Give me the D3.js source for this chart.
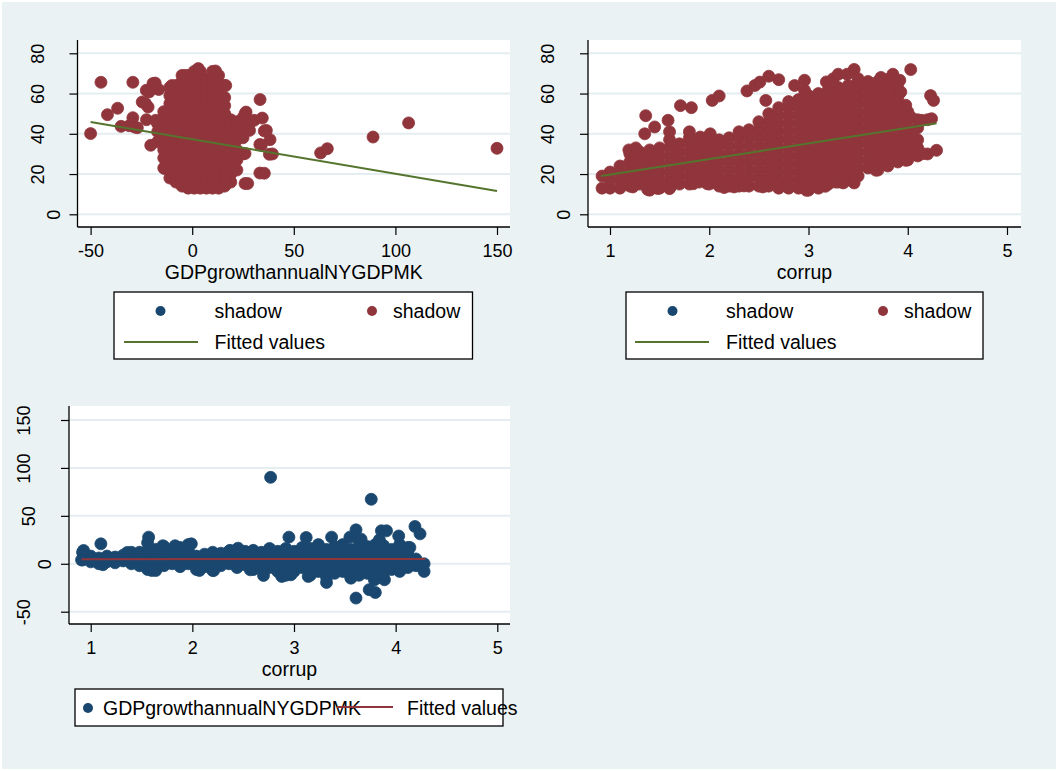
<!DOCTYPE html>
<html>
<head>
<meta charset="utf-8">
<script src="https://cdn.jsdelivr.net/npm/d3@7"></script>
<style>
  body { margin: 0; background: #fff; }
  svg text { font-family: "Liberation Sans", Arial, sans-serif; }
</style>
</head>
<body>
<div id="app"></div>
<script>
// ---- data ----
const shadowTicks = [0, 20, 40, 60, 80]
const gdpTicks = [-50, 0, 50, 100, 150]
const corrupTicks = [1, 2, 3, 4, 5]
const gdpAxisTicks = [-50, 0, 50, 100, 150]

// panel 1: GDP growth (x) vs shadow (y); dense cloud typed as columns [gdp, [shadow...]]
const gdpShadowCloud = [
  [-17, [36, 41, 45]],
  [-14, [23, 28, 32, 36, 40, 44, 48, 51]],
  [-11, [18, 22, 26, 30, 34, 38, 42, 46, 50, 55, 59, 63]],
  [-8, [16, 20, 24, 28, 32, 36, 40, 44, 48, 52, 56, 60, 64]],
  [-5, [14, 18, 22, 26, 30, 34, 38, 42, 46, 50, 54, 58, 62, 66, 69]],
  [-2, [13, 17, 21, 25, 29, 33, 37, 41, 45, 49, 53, 57, 61, 65, 69]],
  [1, [13, 16, 20, 24, 28, 32, 36, 40, 44, 48, 52, 56, 60, 64, 68, 71]],
  [4, [13, 16, 20, 24, 28, 32, 36, 40, 44, 48, 52, 56, 60, 64, 68, 71]],
  [7, [13, 16, 20, 24, 28, 32, 36, 40, 44, 48, 52, 56, 60, 64, 67]],
  [10, [13, 17, 21, 25, 29, 33, 37, 41, 45, 49, 53, 57, 61, 65, 69, 71]],
  [13, [13, 17, 21, 25, 29, 33, 37, 41, 45, 49, 53, 57, 61, 65, 69]],
  [16, [14, 18, 22, 26, 30, 34, 38, 42, 46, 50, 54, 58, 64]],
  [19, [16, 20, 24, 28, 32, 36, 40, 44, 47]],
  [22, [22, 27, 32, 37, 42, 46]],
  [25, [30, 38, 44, 48]],
  [28, [45]]
]
const gdpShadowOutliers = [
  [-50, 40.1], [-44.9, 65.6], [-29.2, 65.6], [-41.7, 49.5], [-36.7, 52.7], [-35, 43.7],
  [-31, 44], [-29.2, 48], [-28.4, 43.4], [-27, 43], [-24.6, 55.8], [-21.7, 53.3], [-22.5, 47],
  [-20.4, 34.3], [-22.6, 61.6], [-19.3, 65], [-18.2, 65.2], [-16.5, 62], [-21.2, 60.8],
  [-23, 55], [-18, 46.7], [-15, 41.7], [-10, 64], [-3.5, 69], [3, 72.4], [11.5, 71.2],
  [-13.5, 22.7], [26, 50], [26.5, 50.8], [30.5, 46.7], [33.4, 57], [34.5, 47.8], [35.5, 41.4],
  [38.3, 37.1], [33.3, 34.7], [34, 34.3], [38, 29.8], [33.3, 20.5], [26, 30.2],
  [28.2, 41.7], [26, 15.3], [27.3, 15.3], [35.5, 20.4], [39.5, 30], [36.5, 41.7],
  [19, 26], [16.5, 20.6], [16.5, 16.8], [27.3, 45], [13, 64.1], [16.5, 64],
  [63.2, 30.5], [66.5, 32.6], [89, 38.4], [106.5, 45.4], [150, 32.8]
]
const gdpShadowFit = [[-50, 45.9], [150, 11.6]]

// panel 2: corrup (x) vs shadow (y)
const corrupShadowCloud = [
  [1.0, [13, 17, 21]],
  [1.1, [13, 17, 21, 24]],
  [1.2, [14, 18, 22, 26, 30]],
  [1.3, [15, 19, 23, 27, 31]],
  [1.4, [12, 16, 20, 24, 28, 32]],
  [1.5, [13, 17, 21, 25, 29, 33]],
  [1.6, [13, 17, 21, 25, 29, 33, 37]],
  [1.7, [15, 19, 23, 27, 31, 35]],
  [1.8, [15, 19, 23, 27, 31, 35, 38]],
  [1.9, [16, 20, 24, 28, 32, 36]],
  [2.0, [15, 19, 23, 27, 31, 35, 39]],
  [2.1, [14, 18, 22, 26, 30, 34, 37]],
  [2.2, [14, 18, 22, 26, 30, 34, 38]],
  [2.3, [14, 18, 22, 26, 30, 34, 38, 41]],
  [2.4, [14, 18, 22, 26, 30, 34, 38, 42]],
  [2.5, [14, 18, 22, 26, 30, 34, 38, 42, 46]],
  [2.6, [14, 18, 22, 26, 30, 34, 38, 42, 46, 50]],
  [2.7, [13, 17, 21, 25, 29, 33, 37, 41, 45, 49, 53]],
  [2.8, [13, 17, 21, 25, 29, 33, 37, 41, 45, 49, 53, 56]],
  [2.9, [13, 17, 21, 25, 29, 33, 37, 41, 45, 49, 53, 57]],
  [3.0, [12, 16, 20, 24, 28, 32, 36, 40, 44, 48, 52, 56, 59]],
  [3.1, [13, 17, 21, 25, 29, 33, 37, 41, 45, 49, 53, 57, 60]],
  [3.2, [15, 19, 23, 27, 31, 35, 39, 43, 47, 51, 55, 59, 62]],
  [3.3, [16, 20, 24, 28, 32, 36, 40, 44, 48, 52, 56, 60, 63]],
  [3.4, [17, 21, 25, 29, 33, 37, 41, 45, 49, 53, 57, 61, 64]],
  [3.5, [19, 23, 27, 31, 35, 39, 43, 47, 51, 55, 59, 63, 66]],
  [3.6, [23, 27, 31, 35, 39, 43, 47, 51, 55, 59, 63, 66]],
  [3.7, [22, 26, 30, 34, 38, 42, 46, 50, 54, 58, 62, 66]],
  [3.8, [24, 28, 32, 36, 40, 44, 48, 52, 56, 60, 64, 67]],
  [3.9, [26, 30, 34, 38, 42, 46, 50, 54, 58, 62, 65]],
  [4.0, [27, 31, 35, 39, 43, 47, 51]],
  [4.1, [29, 33, 37, 43, 47]],
  [4.2, [30, 47]]
]
const corrupShadowOutliers = [
  [0.92, 19], [0.92, 13], [1.13, 23.5], [1.19, 32], [1.26, 33], [1.23, 13.6], [1.36, 49],
  [1.35, 40], [1.45, 43.4], [1.585, 46.7], [1.6, 41], [1.71, 54], [1.82, 53], [1.8, 41],
  [2.03, 56.6], [2.1, 58.8], [2.38, 61.3], [2.46, 64], [2.51, 65.7], [2.57, 56.6], [2.6, 68.6],
  [2.7, 66.9], [2.86, 64], [2.96, 66.6], [2.96, 61.6], [3.18, 65.8], [3.25, 67.4], [3.3, 69.6],
  [3.39, 69.6], [3.46, 72], [3.5, 67.4], [3.73, 68], [3.85, 69.6], [4.03, 71.9], [3.92, 66.6],
  [3.93, 60.8], [3.98, 54.2], [4.23, 59], [4.26, 56.6], [4.24, 47.5], [4.14, 46.7], [4.03, 48.4],
  [4.05, 39.3], [4.29, 31.8], [4.15, 30.1], [3.98, 26.8], [3.68, 21.9], [3.46, 15.6],
  [3.35, 15.6], [3.27, 16], [3.17, 13.9], [2.98, 11.9], [2.79, 13.6], [2.54, 13.6],
  [2.35, 14.1], [2.25, 13.6], [2.15, 13.3], [1.98, 15.2], [1.84, 15.2], [1.6, 12.8],
  [1.48, 12.8], [1.38, 12.3], [1.51, 16], [1.47, 20.2], [2.01, 40], [1.91, 38.4], [1.82, 36.8]
]
const corrupShadowFit = [[0.91, 19], [4.29, 45.2]]

// panel 3: corrup (x) vs GDP growth (y)
const corrupGdpCloud = [
  [0.92, [4, 12]], [1.0, [2, 8]], [1.08, [0, 6]], [1.16, [2, 8]], [1.24, [1, 7]],
  [1.32, [3, 9]], [1.4, [0, 6, 12]], [1.48, [-2, 5, 12]], [1.56, [-6, 0, 7, 14, 22]],
  [1.64, [-7, 1, 8, 15]], [1.72, [-2, 5, 12, 18]], [1.8, [0, 7, 14]],
  [1.88, [-3, 4, 11, 17]], [1.96, [0, 7, 14, 20]], [2.04, [-6, 1, 8]],
  [2.12, [-3, 4, 10]], [2.2, [-7, 0, 6, 12]], [2.28, [-2, 5, 11]], [2.36, [0, 7, 13]],
  [2.44, [-4, 3, 10, 15]], [2.52, [-1, 6, 13]], [2.6, [-6, 1, 8, 14]], [2.68, [-2, 5, 12]],
  [2.76, [-4, 3, 10, 16]], [2.84, [-8, -1, 6, 13]], [2.92, [-12, -5, 2, 9, 16]],
  [3.0, [-8, -1, 6, 13]], [3.08, [-4, 3, 10, 17]], [3.16, [-12, -5, 2, 9, 16]],
  [3.24, [-8, -1, 6, 13, 20]], [3.32, [-14, -6, 1, 8, 15]], [3.4, [-10, -3, 4, 11, 18]],
  [3.48, [-8, -1, 6, 13, 20]], [3.56, [-14, -6, 1, 8, 15]], [3.64, [-12, -4, 3, 10, 17, 24]],
  [3.72, [-10, -3, 4, 11, 18]], [3.8, [-16, -8, -1, 6, 13, 20]], [3.88, [-10, -3, 4, 11, 19]],
  [3.96, [-6, 1, 8, 15]], [4.04, [-8, -1, 6, 13, 20]], [4.12, [-4, 3, 10, 17]],
  [4.2, [-2, 5]], [4.28, [-8, 0]]
]
const corrupGdpOutliers = [
  [2.77, 90.2], [3.76, 67.3], [4.19, 38.9], [4.24, 31.2], [4.03, 29], [3.86, 34.4], [3.91, 34.4],
  [3.61, 35.4], [3.55, 27.8], [3.66, 25.7], [3.37, 27.8], [3.12, 27.4], [2.95, 27.8], [3.84, 25],
  [4.14, 17], [3.61, -35.8], [3.74, -27], [3.8, -30], [3.89, -16.7], [3.32, -19.5], [3.56, -15],
  [3.79, -16.7], [3.14, -13.2], [2.88, -13.2], [2.97, -11.5], [2.7, -12.2], [1.1, 20.8],
  [0.93, 13.9], [0.91, 4], [1.12, -1], [1.57, 27.8], [1.6, -7], [1.36, 11.8], [1.99, 20.8],
  [1.83, 18.8], [1.71, 18.8], [2.07, -7], [2.21, -7], [2.57, -6.3], [2.45, 16.3], [2.37, 14]
]
const corrupGdpFit = [[0.91, 4.8], [4.29, 5.0]]

const legendTop = ['shadow', 'shadow', 'Fitted values']
const legendBottom = ['GDPgrowthannualNYGDPMK', 'Fitted values']

// ---- styling ----
const navy = '#1A476F'
const maroon = '#90353B'
const green = '#55752F'
const bg = '#EAF2F3'
const gridColor = '#E4EDF0'
const font = '"Liberation Sans", Arial, sans-serif'

const flat = (cloud, extra) => cloud.flatMap(([x, ys]) => ys.map(y => [x, y])).concat(extra)

const svg = d3.select('#app').append('svg')
  .attr('width', 1058).attr('height', 771)
  .style('display', 'block')

svg.append('rect').attr('x', 2).attr('y', 2).attr('width', 1054).attr('height', 767).attr('fill', bg)

function drawPanel(p) {
  const [left, top, right, bottom] = p.box
  const g = svg.append('g')
  const x = d3.scaleLinear().domain(p.xDomain).range(p.xRange)
  const y = d3.scaleLinear().domain(p.yDomain).range(p.yRange)

  g.append('rect').attr('x', left).attr('y', top)
    .attr('width', right - left).attr('height', bottom - top).attr('fill', '#fff')

  g.selectAll('line.grid').data(p.yTicks).join('line')
    .attr('class', 'grid')
    .attr('x1', left).attr('x2', right)
    .attr('y1', d => y(d)).attr('y2', d => y(d))
    .attr('stroke', gridColor).attr('stroke-width', 2)

  g.selectAll('circle').data(p.points).join('circle')
    .attr('cx', d => x(d[0])).attr('cy', d => y(d[1]))
    .attr('r', 6).attr('fill', p.color)
    .attr('stroke', p.color).attr('stroke-width', 0.8)

  g.append('path').datum(p.fit)
    .attr('d', d3.line().x(d => x(d[0])).y(d => y(d[1])))
    .attr('stroke', p.fitColor).attr('stroke-width', 2).attr('fill', 'none')

  // y axis, labels turned like Stata's
  const ya = g.append('g').attr('transform', `translate(${left},0)`)
    .call(d3.axisLeft(y).tickValues(p.yTicks).tickSize(8).tickFormat(d => String(d)))
    .attr('font-size', 18).attr('font-family', font)
  ya.select('.domain').remove()
  ya.selectAll('.tick line').attr('stroke', '#000').attr('stroke-width', 1.2)
  ya.selectAll('.tick text')
    .attr('x', null).attr('dy', '0.35em').attr('text-anchor', 'middle').attr('fill', '#000')
    .each(function () {
      const w = this.getComputedTextLength()
      const off = Math.min(24 + 1.6 * (w - 10), 45)
      d3.select(this).attr('transform', `translate(${-off},0) rotate(-90)`)
    })
  g.append('line').attr('x1', left).attr('x2', left).attr('y1', top).attr('y2', bottom)
    .attr('stroke', '#000').attr('stroke-width', 1.3)

  // x axis
  const xa = g.append('g').attr('transform', `translate(0,${bottom})`)
    .call(d3.axisBottom(x).tickValues(p.xTicks).tickSize(8).tickFormat(d => String(d)))
    .attr('font-size', 18).attr('font-family', font)
  xa.select('.domain').remove()
  xa.selectAll('.tick line').attr('stroke', '#000').attr('stroke-width', 1.2)
  xa.selectAll('.tick text').attr('y', p.tickBase - bottom).attr('dy', null).attr('fill', '#000')
  g.append('line').attr('x1', left).attr('x2', right).attr('y1', bottom).attr('y2', bottom)
    .attr('stroke', '#000').attr('stroke-width', 1.3)

  g.append('text').attr('x', (left + right) / 2).attr('y', p.titleBase)
    .attr('text-anchor', 'middle').attr('font-size', 19.5).text(p.xTitle)
}

function legendTwoRow(lx, ly, lw, lh, c) {
  const g = svg.append('g').attr('font-size', 19.5)
  g.append('rect').attr('x', lx).attr('y', ly).attr('width', lw).attr('height', lh)
    .attr('fill', '#fff').attr('stroke', '#000').attr('stroke-width', 1.3)
  const r1 = ly + 19, r2 = ly + 50
  g.append('circle').attr('cx', lx + c.dot1).attr('cy', r1).attr('r', 5).attr('fill', navy)
  g.append('text').attr('x', lx + c.txt1).attr('y', r1 + 7).text(legendTop[0])
  g.append('circle').attr('cx', lx + c.dot2).attr('cy', r1).attr('r', 5).attr('fill', maroon)
  g.append('text').attr('x', lx + c.txt2).attr('y', r1 + 7).text(legendTop[1])
  g.append('line').attr('x1', lx + c.l1).attr('x2', lx + c.l2).attr('y1', r2).attr('y2', r2)
    .attr('stroke', green).attr('stroke-width', 2)
  g.append('text').attr('x', lx + c.txt1).attr('y', r2 + 7).text(legendTop[2])
}

drawPanel({
  box: [77.5, 40, 510, 227],
  xDomain: [-50, 150], xRange: [90.6, 497],
  yDomain: [0, 80], yRange: [214.3, 53.3],
  xTicks: gdpTicks, yTicks: shadowTicks,
  points: flat(gdpShadowCloud, gdpShadowOutliers), color: maroon,
  fit: gdpShadowFit, fitColor: green,
  tickBase: 256.5, xTitle: 'GDPgrowthannualNYGDPMK', titleBase: 279
})

drawPanel({
  box: [588, 40, 1021, 227],
  xDomain: [1, 5], xRange: [610, 1007],
  yDomain: [0, 80], yRange: [214.3, 53.3],
  xTicks: corrupTicks, yTicks: shadowTicks,
  points: flat(corrupShadowCloud, corrupShadowOutliers), color: maroon,
  fit: corrupShadowFit, fitColor: green,
  tickBase: 256.5, xTitle: 'corrup', titleBase: 279
})

drawPanel({
  box: [69, 406, 510, 624],
  xDomain: [1, 5], xRange: [90.7, 497.3],
  yDomain: [-50, 150], yRange: [611.7, 420],
  xTicks: corrupTicks, yTicks: gdpAxisTicks,
  points: flat(corrupGdpCloud, corrupGdpOutliers), color: navy,
  fit: corrupGdpFit, fitColor: maroon,
  tickBase: 653.5, xTitle: 'corrup', titleBase: 676
})

legendTwoRow(114, 292, 358.5, 67, { dot1: 46.5, txt1: 100.5, dot2: 258, txt2: 279, l1: 10, l2: 84 })
legendTwoRow(626, 292, 357, 67, { dot1: 46.5, txt1: 100, dot2: 257, txt2: 278, l1: 9, l2: 83 })

// bottom legend: one row, the line overruns the first label as in the original
const lg = svg.append('g').attr('font-size', 19.5)
lg.append('rect').attr('x', 75).attr('y', 689).attr('width', 428).attr('height', 37)
  .attr('fill', '#fff').attr('stroke', '#000').attr('stroke-width', 1.3)
lg.append('circle').attr('cx', 88).attr('cy', 708).attr('r', 5).attr('fill', navy)
lg.append('text').attr('x', 103).attr('y', 715).text(legendBottom[0])
lg.append('line').attr('x1', 337).attr('x2', 393).attr('y1', 707).attr('y2', 707)
  .attr('stroke', maroon).attr('stroke-width', 2)
lg.append('text').attr('x', 407).attr('y', 715).text(legendBottom[1])
</script>
</body>
</html>
